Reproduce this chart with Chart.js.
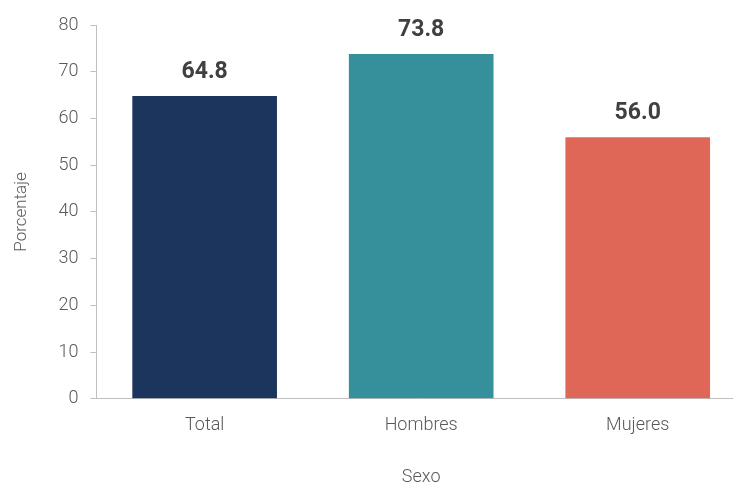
<!DOCTYPE html>
<html>
<head>
<meta charset="utf-8">
<script src="https://cdn.jsdelivr.net/npm/chart.js@4"></script>
<style>
  html, body { margin: 0; padding: 0; background: #fff; overflow: hidden; }
  #wrap { width: 746px; height: 492px; }
</style>
</head>
<body>
<div id="wrap"><canvas id="sexoChart"></canvas></div>
<script>
const categories = ['Total', 'Hombres', 'Mujeres'];
const values = [64.8, 73.8, 56.0];
const barColors = ['#1b355c', '#35909c', '#de6758'];
const yTicks = [0, 10, 20, 30, 40, 50, 60, 70, 80];

const valueLabels = {
    id: 'valueLabels',
    afterDatasetsDraw(chart) {
        const c = chart.ctx;
        const meta = chart.getDatasetMeta(0);
        c.save();
        c.font = 'bold 23px Roboto';
        c.fillStyle = '#404040';
        c.textAlign = 'center';
        c.textBaseline = 'bottom';
        meta.data.forEach((bar, i) => {
            c.fillText(values[i].toFixed(1), bar.x, bar.y - 12);
        });
        c.restore();
    }
};

const ctx = document.getElementById('sexoChart').getContext('2d');
new Chart(ctx, {
    type: 'bar',
    data: {
        labels: categories,
        datasets: [{
            data: values,
            backgroundColor: barColors,
            barPercentage: 0.668,
            categoryPercentage: 1
        }]
    },
    options: {
        responsive: true,
        maintainAspectRatio: false,
        animation: false,
        layout: { padding: { top: 25, right: 0, left: 8, bottom: 0 } },
        plugins: {
            legend: { display: false },
            tooltip: { enabled: false }
        },
        scales: {
            y: {
                min: 0,
                max: 80,
                afterBuildTicks: axis => { axis.ticks = yTicks.map(v => ({ value: v })); },
                grid: { drawOnChartArea: false, tickLength: 6, color: '#bfbfbf' },
                border: { color: '#bfbfbf' },
                ticks: { color: '#595959', font: { family: 'Roboto', size: 18, weight: '300' }, padding: 12 },
                title: {
                    display: true,
                    text: 'Porcentaje',
                    color: '#595959',
                    font: { family: 'Roboto', size: 17, weight: '300' },
                    padding: { top: 4, bottom: 14 }
                }
            },
            x: {
                grid: { display: false },
                border: { color: '#bfbfbf' },
                ticks: { color: '#595959', font: { family: 'Roboto', size: 18, weight: '300' }, padding: 8 },
                title: {
                    display: true,
                    text: 'Sexo',
                    color: '#595959',
                    font: { family: 'Roboto', size: 18, weight: '300' },
                    padding: { top: 22, bottom: 4 }
                }
            }
        }
    },
    plugins: [valueLabels]
});
</script>
</body>
</html>
